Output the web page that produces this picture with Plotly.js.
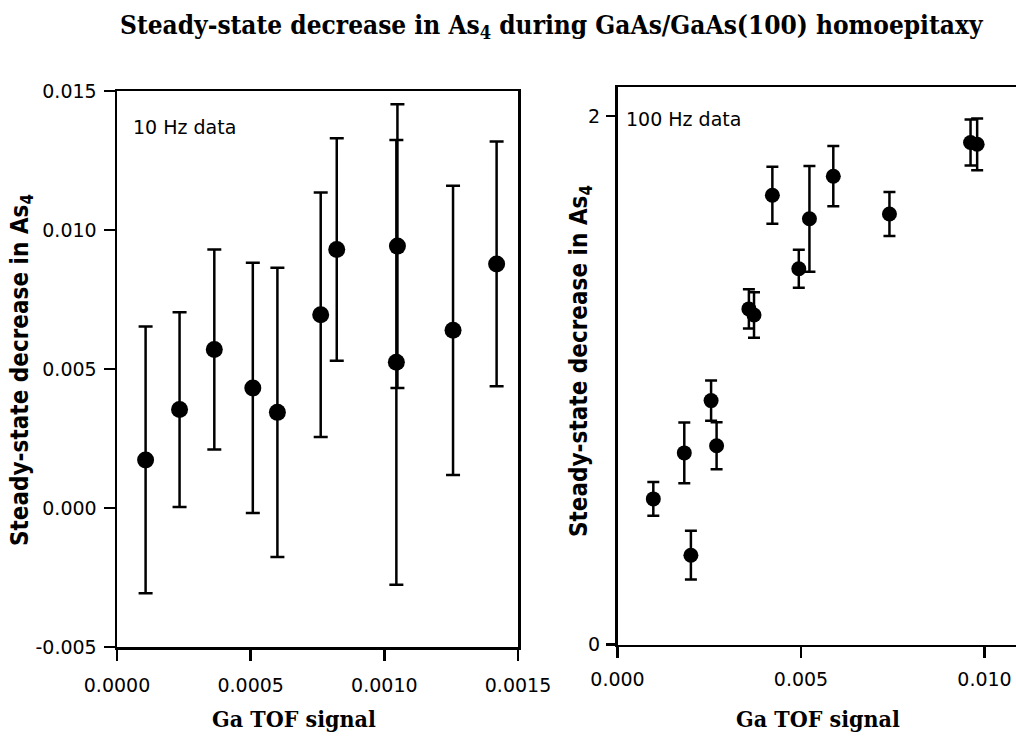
<!DOCTYPE html>
<html>
<head>
<meta charset="utf-8">
<script src="https://cdn.plot.ly/plotly-3.0.1.min.js"></script>
<style>
  html, body { margin: 0; padding: 0; background: #ffffff; }
  #chart { width: 1016px; height: 740px; }
</style>
</head>
<body>
<div id="chart"></div>
<script>
// 10 Hz measurements: Ga TOF signal vs steady-state As4 decrease, with 1-sigma errors
const tof10 = [0.000107, 0.000234, 0.000364, 0.000508, 0.000600, 0.000762, 0.000822, 0.001049, 0.001045, 0.001257, 0.001420];
const dec10 = [0.00173, 0.00354, 0.00570, 0.00432, 0.00344, 0.00695, 0.00930, 0.00942, 0.00524, 0.00639, 0.00878];
const err10 = [0.0048, 0.0035, 0.0036, 0.0045, 0.0052, 0.0044, 0.0040, 0.0051, 0.0080, 0.0052, 0.0044];

// 100 Hz measurements
const tof100 = [0.000976, 0.00182, 0.00200, 0.00255, 0.00270, 0.00358, 0.00372, 0.00422, 0.00494, 0.00523, 0.00588, 0.00741, 0.00962, 0.00980];
const dec100 = [0.551, 0.725, 0.338, 0.923, 0.752, 1.270, 1.247, 1.700, 1.422, 1.611, 1.772, 1.629, 1.900, 1.893];
const err100 = [0.064, 0.115, 0.092, 0.076, 0.089, 0.074, 0.086, 0.108, 0.072, 0.200, 0.114, 0.083, 0.087, 0.098];

// Tick positions and their printed labels
const xTicks10 = [0, 0.0005, 0.0010, 0.0015];
const xLabels10 = ["0.0000", "0.0005", "0.0010", "0.0015"];
const yTicks10 = [-0.005, 0.000, 0.005, 0.010, 0.015];
const yLabels10 = ["-0.005", "0.000", "0.005", "0.010", "0.015"];
const xTicks100 = [0, 0.005, 0.010];
const xLabels100 = ["0.000", "0.005", "0.010"];
const yTicks100 = [0, 2];
const yLabels100 = ["0", "2"];

const W = 1016, H = 740;
const px = v => v / W;            // horizontal pixel -> paper fraction
const py = v => 1 - v / H;        // vertical pixel (from top) -> paper fraction

const tickFont = { family: "DejaVu Sans", size: 19, color: "#000" };
const serifBold = "DejaVu Serif Condensed, DejaVu Serif, serif";
const sansBold = "DejaVu Sans Condensed, DejaVu Sans, sans-serif";

const marker = { color: "#000", size: 17, symbol: "circle" };

const traces = [
  {
    type: "scatter", mode: "markers",
    x: tof10, y: dec10,
    error_y: { type: "data", array: err10, visible: true, color: "#000", thickness: 2.5, width: 7 },
    marker: marker, xaxis: "x", yaxis: "y", hoverinfo: "skip"
  },
  {
    type: "scatter", mode: "markers",
    x: tof100, y: dec100,
    error_y: { type: "data", array: err100, visible: true, color: "#000", thickness: 2.5, width: 6 },
    marker: Object.assign({}, marker, { size: 15 }), xaxis: "x2", yaxis: "y2", hoverinfo: "skip"
  }
];

const axisCommon = {
  showgrid: false, zeroline: false, showline: true, linecolor: "#000", linewidth: 2.5,
  ticks: "outside", ticklen: 11, tickwidth: 2.5, tickcolor: "#000",
  tickfont: tickFont, tickmode: "array", automargin: false, fixedrange: true
};

const layout = {
  width: W, height: H,
  margin: { l: 0, r: 0, t: 0, b: 0 },
  paper_bgcolor: "#fff", plot_bgcolor: "#fff",
  showlegend: false,
  xaxis: Object.assign({}, axisCommon, {
    domain: [px(117), px(518)], range: [0, 0.0015],
    tickvals: xTicks10, ticktext: xLabels10, mirror: true, anchor: "y",
    ticklabelstandoff: 9
  }),
  yaxis: Object.assign({}, axisCommon, {
    domain: [py(647), py(91)], range: [-0.005, 0.015],
    tickvals: yTicks10, ticktext: yLabels10, mirror: true, anchor: "x",
    ticklabelstandoff: 3
  }),
  xaxis2: Object.assign({}, axisCommon, {
    domain: [px(617.5), 1], range: [0, (W - 617.5) / 36700],
    tickvals: xTicks100, ticktext: xLabels100, mirror: true, anchor: "y2",
    ticklabelstandoff: 5
  }),
  yaxis2: Object.assign({}, axisCommon, {
    domain: [py(644.5), py(87.3)], range: [0, (644.5 - 87.3) / 264.25],
    tickvals: yTicks100, ticktext: yLabels100, mirror: false, anchor: "x2",
    ticklen: 9, ticklabelstandoff: 2
  }),
  annotations: [
    {
      text: "<b>Steady-state decrease in As<sub>4</sub> during GaAs/GaAs(100) homoepitaxy</b>",
      xref: "paper", yref: "paper", x: px(552), y: py(27),
      xanchor: "center", yanchor: "middle", showarrow: false,
      font: { family: serifBold, size: 26, color: "#000" }
    },
    {
      text: "10 Hz data", xref: "paper", yref: "paper", x: px(131), y: py(127),
      xanchor: "left", yanchor: "middle", showarrow: false,
      font: { family: "DejaVu Sans", size: 19, color: "#000" }
    },
    {
      text: "100 Hz data", xref: "paper", yref: "paper", x: px(624), y: py(119),
      xanchor: "left", yanchor: "middle", showarrow: false,
      font: { family: "DejaVu Sans", size: 19, color: "#000" }
    },
    {
      text: "<b>Ga TOF signal</b>", xref: "paper", yref: "paper", x: px(294), y: py(718),
      xanchor: "center", yanchor: "middle", showarrow: false,
      font: { family: serifBold, size: 23, color: "#000" }
    },
    {
      text: "<b>Ga TOF signal</b>", xref: "paper", yref: "paper", x: px(818), y: py(718),
      xanchor: "center", yanchor: "middle", showarrow: false,
      font: { family: serifBold, size: 23, color: "#000" }
    },
    {
      text: "<b>Steady-state decrease in As<sub>4</sub></b>", xref: "paper", yref: "paper",
      x: px(21), y: py(370), textangle: -90,
      xanchor: "center", yanchor: "middle", showarrow: false,
      font: { family: sansBold, size: 24, color: "#000" }
    },
    {
      text: "<b>Steady-state decrease in As<sub>4</sub></b>", xref: "paper", yref: "paper",
      x: px(580), y: py(361), textangle: -90,
      xanchor: "center", yanchor: "middle", showarrow: false,
      font: { family: sansBold, size: 24, color: "#000" }
    }
  ]
};

Plotly.newPlot("chart", traces, layout, { displayModeBar: false, staticPlot: true });
</script>
</body>
</html>
